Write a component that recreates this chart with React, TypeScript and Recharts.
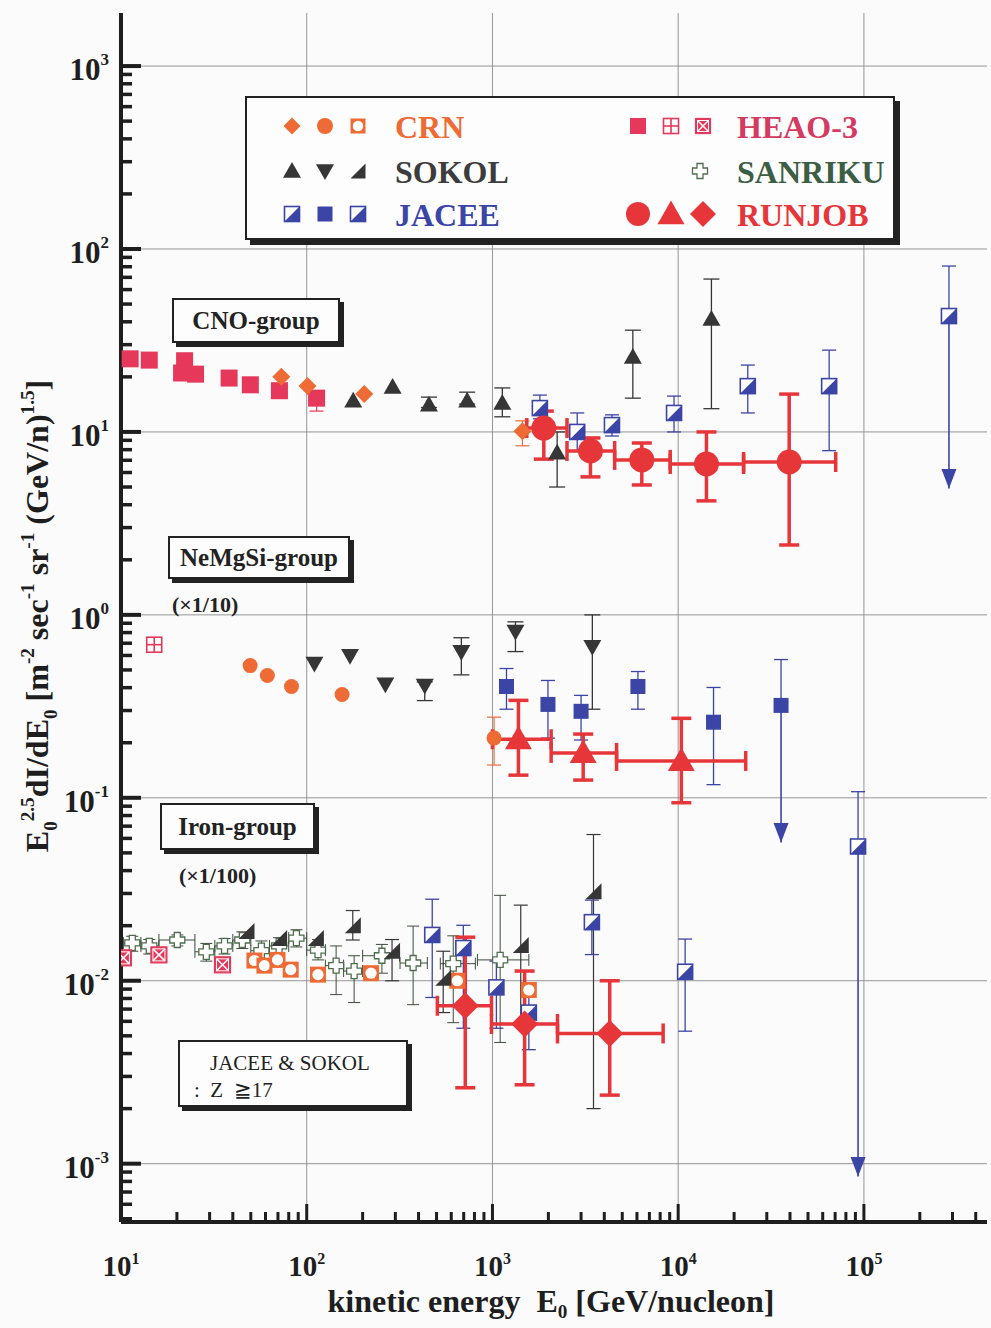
import React from 'react';
import { ScatterChart, Scatter, XAxis, YAxis, ErrorBar, ReferenceLine, Legend } from 'recharts';

// rows: [E, value, yLow, yHigh, xLow, xHigh] — values as plotted (NeMgSi x1/10, Iron x1/100)
type Row = (number | null)[];

// ---------- CNO-group ----------
const cnoHeao: Row[] = [
  [11.2, 25.1], [14.2, 24.7], [22.0, 24.5], [21.2, 21.0], [25.2, 20.7],
  [38.2, 19.7], [49.7, 18.1], [71.3, 16.8], [113, 15.3, 13.0, 15.8],
];
const cnoCrn: Row[] = [[73, 20.0], [101, 17.8], [204, 16.1], [1450, 10.1, 8.4, 11.5]];
const cnoSokol: Row[] = [
  [178, 14.8], [290, 17.6], [455, 14.1, 13.6, 15.5], [731, 14.8, 14.2, 16.5],
  [1130, 14.4, 12.1, 17.4], [2230, 7.7, 5.0, 10.0], [5700, 25.7, 15.3, 36], [15100, 41.4, 13.4, 68.5],
];
const cnoJacee: Row[] = [
  [1800, 13.5, 11.8, 15.9], [2860, 10.0, 7.9, 12.7], [4400, 10.9, 9.5, 12.4], [9500, 12.7, 10.0, 15.7],
  [23700, 17.8, 12.7, 23.2], [65000, 17.8, 7.9, 28], [287000, 43, 43, 80.7],
];
const cnoRunjob: Row[] = [
  [1890, 10.5, 7.1, 13.0, 1530, 2520], [3370, 7.87, 5.68, 9.27, 2520, 4550],
  [6370, 7.03, 5.13, 8.7, 4550, 9060], [14200, 6.68, 4.2, 10, 9060, 22500],
  [39600, 6.85, 2.41, 16.1, 22500, 70500],
];

// ---------- NeMgSi-group (x1/10) ----------
const neHeao: Row[] = [[15.1, 0.687]];
const neCrn: Row[] = [[49.6, 0.528], [61.4, 0.466], [82.8, 0.406], [155, 0.367], [1020, 0.212, 0.151, 0.276]];
const neSokol: Row[] = [
  [110, 0.542], [171, 0.598], [265, 0.417], [432, 0.411, 0.34, 0.43], [680, 0.629, 0.47, 0.75],
  [1330, 0.81, 0.63, 0.916], [3450, 0.67, 0.305, 1.0],
];
const neJacee: Row[] = [
  [1190, 0.406, 0.305, 0.509], [1990, 0.324, 0.212, 0.438], [3000, 0.297, 0.207, 0.363],
  [6070, 0.406, 0.305, 0.49], [15500, 0.259, 0.118, 0.401], [35800, 0.32, 0.32, 0.57],
];
const neRunjob: Row[] = [
  [1380, 0.209, 0.133, 0.341, 1000, 2070], [3080, 0.176, 0.125, 0.223, 2070, 4660],
  [10400, 0.159, 0.094, 0.272, 4660, 23100],
];

// ---------- Iron-group (x1/100) ----------
const feHeao: Row[] = [[10.3, 0.01334], [16.0, 0.01385], [35.2, 0.01222]];
const feSanriku: Row[] = [
  [11.5, 0.0161, 0.0145, 0.0175, 10.3, 12.8], [14.2, 0.0155, 0.014, 0.0168, 12.8, 16],
  [20.1, 0.0167, 0.0155, 0.0178, 16, 25], [28.8, 0.0144, 0.0128, 0.016, 25, 32],
  [36.1, 0.0155, 0.014, 0.017, 32, 40], [45, 0.0167, 0.015, 0.0185, 40, 50],
  [57, 0.0146, 0.013, 0.0165, 50, 63], [71, 0.0155, 0.014, 0.0172, 63, 80],
  [88, 0.0171, 0.0153, 0.019, 80, 100], [115, 0.0147, 0.013, 0.0168, 100, 126],
  [144, 0.0121, 0.0084, 0.0155, 126, 158], [180, 0.0113, 0.0076, 0.0137, 158, 200],
  [254, 0.0137, 0.011, 0.0158, 200, 316], [374, 0.0125, 0.0074, 0.0199, 318, 446],
  [615, 0.0124, 0.0059, 0.0176, 524, 809], [1100, 0.013, 0.0046, 0.0293, 830, 1570],
];
const feSokol: Row[] = [
  [47.4, 0.0187], [71, 0.0171], [112, 0.0171], [177, 0.0201, 0.0167, 0.0242],
  [288, 0.0146, 0.0100, 0.0168], [543, 0.0104, 0.0067, 0.0145], [1420, 0.0157, 0.0058, 0.0259],
  [3500, 0.0308, 0.0020, 0.063],
];
const feJacee: Row[] = [
  [474, 0.0178, 0.0081, 0.0279], [697, 0.0151, 0.0055, 0.0201], [1050, 0.0092, 0.0055, 0.0128],
  [1570, 0.0067, 0.0042, 0.0095], [3430, 0.0209, 0.0139, 0.0276], [10900, 0.0112, 0.0053, 0.0169],
  [93000, 0.0542, 0.0542, 0.108],
];
const feCrn: Row[] = [
  [52.3, 0.0129], [59.2, 0.0121], [69.6, 0.013], [82, 0.0115], [115, 0.0108], [222, 0.011],
  [647, 0.010], [1570, 0.0089],
];
const feRunjob: Row[] = [
  [714, 0.0073, 0.0026, 0.0173, 505, 988], [1490, 0.0058, 0.0027, 0.0113, 988, 2240],
  [4280, 0.00515, 0.00237, 0.0100, 2240, 8300],
];

// JACEE upper limits: [E, from value, arrow tip]
const jaceeLimits: number[][] = [[287000, 43, 4.9], [35800, 0.32, 0.057], [93000, 0.0542, 0.00085]];

// ---------- axes ----------
const X_DOMAIN: [number, number] = [10, 4.6e5];
const Y_DOMAIN: [number, number] = [4.8e-4, 1.95e3];
const xDecades = [10, 100, 1000, 10000, 100000];
const yDecades = [1e-4, 1e-3, 1e-2, 1e-1, 1, 10, 100, 1000];
const xExp: Record<string, string> = { 10: '1', 100: '2', 1000: '3', 10000: '4', 100000: '5' };
const yExp = ['-3', '-2', '-1', '0', '1', '2', '3'];

const inRange = (v: number, d: [number, number]) => v >= d[0] * 0.999 && v <= d[1] * 1.001;
const xTicks = xDecades.flatMap((d) => [1, 2, 3, 4, 5, 6, 7, 8, 9].map((k) => d * k)).filter((v) => inRange(v, X_DOMAIN));
const yTicks = yDecades.flatMap((d) => [1, 2, 3, 4, 5, 6, 7, 8, 9].map((k) => d * k)).filter((v) => inRange(v, Y_DOMAIN));
const isMajor = (v: number) => Math.abs(Math.log10(v) - Math.round(Math.log10(v))) < 1e-6;

const SERIF = '"Liberation Serif", "Times New Roman", serif';
const INK = '#1e1e1e';
const C = {
  heao: '#e5385a',
  heaoText: '#d43a62',
  crn: '#ef6b35',
  sokol: '#363636',
  jacee: '#3b45a6',
  sanriku: '#4e6e4e',
  sanrikuText: '#3b5e44',
  runjob: '#e6363a',
};

const toPts = (rows: Row[]) =>
  rows.map(([x, y, lo, hi, xl, xh]) => ({
    x,
    y,
    ey: lo != null && hi != null ? [(y as number) - lo, hi - (y as number)] : undefined,
    ex: xl != null && xh != null ? [(x as number) - xl, xh - (x as number)] : undefined,
  }));

type Kind =
  | 'square' | 'circle' | 'diamond' | 'triUp' | 'triDown' | 'halfTri' | 'halfSq'
  | 'openSq' | 'plusSq' | 'xSq' | 'cross' | 'arrow';

function Marker({ cx, cy, kind, color, s }: { cx: number; cy: number; kind: Kind; color: string; s: number }) {
  if (cx == null || cy == null || isNaN(cx) || isNaN(cy)) return null;
  const h = s / 2;
  const sq = { x: cx - h, y: cy - h, width: s, height: s };
  switch (kind) {
    case 'square':
      return <rect {...sq} fill={color} />;
    case 'circle':
      return <circle cx={cx} cy={cy} r={h} fill={color} />;
    case 'diamond':
      return <polygon points={`${cx},${cy - h} ${cx + h},${cy} ${cx},${cy + h} ${cx - h},${cy}`} fill={color} />;
    case 'triUp':
      return <polygon points={`${cx},${cy - h} ${cx + h},${cy + h * 0.75} ${cx - h},${cy + h * 0.75}`} fill={color} />;
    case 'triDown':
      return <polygon points={`${cx},${cy + h} ${cx + h},${cy - h * 0.75} ${cx - h},${cy - h * 0.75}`} fill={color} />;
    case 'halfTri':
      return <polygon points={`${cx - h},${cy + h} ${cx + h},${cy + h} ${cx + h},${cy - h}`} fill={color} />;
    case 'halfSq':
      return (
        <g>
          <rect {...sq} fill="#fff" stroke={color} strokeWidth={1.6} />
          <polygon points={`${cx - h},${cy + h} ${cx + h},${cy + h} ${cx + h},${cy - h}`} fill={color} />
        </g>
      );
    case 'openSq':
      return (
        <g>
          <rect {...sq} fill={color} />
          <circle cx={cx} cy={cy} r={h * 0.7} fill="#fff" />
        </g>
      );
    case 'plusSq':
      return (
        <g stroke={color} strokeWidth={1.6}>
          <rect {...sq} fill="#fff" />
          <line x1={cx - h} x2={cx + h} y1={cy} y2={cy} />
          <line x1={cx} x2={cx} y1={cy - h} y2={cy + h} />
        </g>
      );
    case 'xSq':
      return (
        <g>
          <rect {...sq} fill={color} stroke={color} strokeWidth={1.2} />
          <line x1={cx - h + 2} x2={cx + h - 2} y1={cy - h + 2} y2={cy + h - 2} stroke="#fff" strokeWidth={1.5} />
          <line x1={cx - h + 2} x2={cx + h - 2} y1={cy + h - 2} y2={cy - h + 2} stroke="#fff" strokeWidth={1.5} />
          <rect x={cx - h + 2} y={cy - h + 2} width={s - 4} height={s - 4} fill="none" stroke="#fff" strokeWidth={1} />
        </g>
      );
    case 'cross': {
      const a = s * 0.2;
      const p = [
        [cx - a, cy - h], [cx + a, cy - h], [cx + a, cy - a], [cx + h, cy - a], [cx + h, cy + a], [cx + a, cy + a],
        [cx + a, cy + h], [cx - a, cy + h], [cx - a, cy + a], [cx - h, cy + a], [cx - h, cy - a], [cx - a, cy - a],
      ];
      return <polygon points={p.map((q) => q.join(',')).join(' ')} fill="#fff" stroke={color} strokeWidth={1.3} />;
    }
    case 'arrow':
      return <polygon points={`${cx - h},${cy - s * 1.3} ${cx + h},${cy - s * 1.3} ${cx},${cy}`} fill={color} />;
    default:
      return null;
  }
}

type Series = {
  name: string;
  rows: Row[];
  kind: Kind;
  color: string;
  s: number;
  err?: string;
  ew?: number;
  cap?: number;
};

const series: Series[] = [
  { name: 'fe-sanriku', rows: feSanriku, kind: 'cross', color: C.sanriku, s: 15, err: '#3e4a3e', ew: 1, cap: 6 },
  { name: 'fe-heao', rows: feHeao, kind: 'xSq', color: C.heao, s: 16 },
  { name: 'fe-crn', rows: feCrn, kind: 'openSq', color: C.crn, s: 16 },
  { name: 'fe-sokol', rows: feSokol, kind: 'halfTri', color: C.sokol, s: 16, err: C.sokol, ew: 1.2, cap: 7 },
  { name: 'fe-jacee', rows: feJacee, kind: 'halfSq', color: C.jacee, s: 15, err: C.jacee, ew: 1.3, cap: 7 },
  { name: 'ne-heao', rows: neHeao, kind: 'plusSq', color: C.heao, s: 15 },
  { name: 'ne-crn', rows: neCrn, kind: 'circle', color: C.crn, s: 15, err: C.crn, ew: 1.2, cap: 7 },
  { name: 'ne-sokol', rows: neSokol, kind: 'triDown', color: C.sokol, s: 18, err: C.sokol, ew: 1.3, cap: 8 },
  { name: 'ne-jacee', rows: neJacee, kind: 'square', color: C.jacee, s: 15, err: C.jacee, ew: 1.3, cap: 7 },
  { name: 'cno-heao', rows: cnoHeao, kind: 'square', color: C.heao, s: 17, err: C.heao, ew: 1.2, cap: 7 },
  { name: 'cno-crn', rows: cnoCrn, kind: 'diamond', color: C.crn, s: 18, err: C.crn, ew: 1.2, cap: 7 },
  { name: 'cno-sokol', rows: cnoSokol, kind: 'triUp', color: C.sokol, s: 18, err: C.sokol, ew: 1.3, cap: 8 },
  { name: 'cno-jacee', rows: cnoJacee, kind: 'halfSq', color: C.jacee, s: 15, err: C.jacee, ew: 1.3, cap: 7 },
  { name: 'jacee-arrows', rows: jaceeLimits.map(([e, , tip]) => [e, tip]), kind: 'arrow', color: C.jacee, s: 15 },
  { name: 'cno-runjob', rows: cnoRunjob, kind: 'circle', color: C.runjob, s: 25, err: C.runjob, ew: 3.5, cap: 10 },
  { name: 'ne-runjob', rows: neRunjob, kind: 'triUp', color: C.runjob, s: 27, err: C.runjob, ew: 3.5, cap: 10 },
  { name: 'fe-runjob', rows: feRunjob, kind: 'diamond', color: C.runjob, s: 27, err: C.runjob, ew: 3.5, cap: 10 },
];

// ---------- text helpers ----------
type Seg = [string, ('sup' | 'sub')?];
function rich(segs: Seg[], size: number, subShift = 0.28) {
  let cur = 0;
  return segs.map(([t, k], i) => {
    const off = k === 'sup' ? -size * 0.45 : k === 'sub' ? size * subShift : 0;
    const dy = off - cur;
    cur = off;
    return (
      <tspan key={i} dy={dy} fontSize={k ? size * 0.6 : size}>
        {t}
      </tspan>
    );
  });
}

const yTitle: Seg[] = [
  ['E'], ['0', 'sub'], ['2.5', 'sup'], ['dI/dE'], ['0', 'sub'], [' [m'], ['-2', 'sup'], [' sec'], ['-1', 'sup'],
  [' sr'], ['-1', 'sup'], [' (GeV/n)'], ['1.5', 'sup'], [']'],
];
const xTitle: Seg[] = [['kinetic energy  E'], ['0', 'sub'], [' [GeV/nucleon]']];

function YTitle() {
  const cx = 48;
  const cy = 616;
  return (
    <text x={cx} y={cy} transform={`rotate(-90 ${cx} ${cy})`} textAnchor="middle" fontFamily={SERIF}
      fontWeight="bold" fill={INK} style={{ whiteSpace: 'pre' }}>
      {rich(yTitle, 32)}
    </text>
  );
}

function XTitle() {
  return (
    <text x={551} y={1312} textAnchor="middle" fontFamily={SERIF} fontWeight="bold" fill={INK} style={{ whiteSpace: 'pre' }}>
      {rich(xTitle, 32, 0.18)}
    </text>
  );
}

function BottomTick(p: any) {
  const v = p.payload.value;
  const major = isMajor(v);
  return (
    <g>
      <line x1={p.x} x2={p.x} y1={p.y} y2={p.y - (major ? 18 : 10)} stroke={INK} strokeWidth={3} />
      {major && (
        <text x={p.x} y={p.y + 54} textAnchor="middle" fontFamily={SERIF} fontWeight="bold" fontSize={29} fill={INK}>
          10<tspan dy={-12} fontSize={16}>{xExp[String(v)]}</tspan>
        </text>
      )}
    </g>
  );
}

function TopTick(p: any) {
  const major = isMajor(p.payload.value);
  return <line x1={p.x} x2={p.x} y1={p.y} y2={p.y + (major ? 16 : 9)} stroke={INK} strokeWidth={3} />;
}

function LeftTick(p: any) {
  const v = p.payload.value;
  const major = isMajor(v);
  const e = Math.round(Math.log10(v));
  return (
    <g>
      <line x1={p.x} x2={p.x + (major ? 20 : 11)} y1={p.y} y2={p.y} stroke={INK} strokeWidth={major ? 4 : 3.5} />
      {major && (
        <text x={p.x - 12} y={p.y + 14} textAnchor="end" fontFamily={SERIF} fontWeight="bold" fontSize={31} fill={INK}>
          10<tspan dy={-15} fontSize={17}>{yExp[e + 3]}</tspan>
        </text>
      )}
    </g>
  );
}

function RightTick(p: any) {
  const major = isMajor(p.payload.value);
  return <line x1={p.x} x2={p.x - (major ? 16 : 9)} y1={p.y} y2={p.y} stroke={INK} strokeWidth={major ? 4 : 3.5} />;
}

// ---------- legend & annotation boxes ----------
const legendRows: { kinds: [Kind, string, number][]; label: string; color: string; side: 'l' | 'r' }[] = [
  { kinds: [['diamond', C.crn, 17], ['circle', C.crn, 16], ['openSq', C.crn, 15]], label: 'CRN', color: C.crn, side: 'l' },
  { kinds: [['triUp', C.sokol, 18], ['triDown', C.sokol, 18], ['halfTri', C.sokol, 15]], label: 'SOKOL', color: '#3c3c3c', side: 'l' },
  { kinds: [['halfSq', C.jacee, 15], ['square', C.jacee, 15], ['halfSq', C.jacee, 15]], label: 'JACEE', color: C.jacee, side: 'l' },
  { kinds: [['square', C.heao, 16], ['plusSq', C.heao, 15], ['xSq', C.heao, 15]], label: 'HEAO-3', color: C.heaoText, side: 'r' },
  { kinds: [['cross', C.sanriku, 15]], label: 'SANRIKU', color: C.sanrikuText, side: 'r' },
  { kinds: [['circle', C.runjob, 24], ['triUp', C.runjob, 27], ['diamond', C.runjob, 26]], label: 'RUNJOB', color: C.runjob, side: 'r' },
];

function LegendBox() {
  const rowY = [28, 73, 116];
  return (
    <div style={{ width: 646, height: 140, border: '2.5px solid #222', boxShadow: '5px 5px 0 #222', background: '#fdfdfd' }}>
      <svg width={646} height={140}>
        {legendRows.map((r, i) => {
          const y = rowY[i % 3];
          const left = r.side === 'l';
          const markers = left ? [45, 78, 111] : r.kinds.length === 1 ? [453] : [391, 424, 456];
          return (
            <g key={r.label}>
              {r.kinds.map(([k, c, s], j) => (
                <Marker key={j} cx={markers[j]} cy={y} kind={k} color={c} s={s} />
              ))}
              <text x={left ? 148 : 490} y={y + 12} fontFamily={SERIF} fontWeight="bold" fontSize={32} fill={r.color}>
                {r.label}
              </text>
            </g>
          );
        })}
      </svg>
    </div>
  );
}

const boxStyle = (left: number, top: number, w: number, h: number): React.CSSProperties => ({
  position: 'absolute', left, top, width: w, height: h, border: '2px solid #222', boxShadow: '4px 4px 0 #222',
  background: '#fdfdfd', display: 'flex', alignItems: 'center', justifyContent: 'center', boxSizing: 'border-box',
  fontFamily: SERIF, fontWeight: 'bold', fontSize: 25, color: '#222',
});
const noteStyle = (left: number, top: number): React.CSSProperties => ({
  position: 'absolute', left, top, fontFamily: SERIF, fontWeight: 'bold', fontSize: 22, color: '#222',
});

export default function App() {
  return (
    <div style={{ position: 'absolute', left: 0, top: 0, width: 991, height: 1328, background: '#fbfbfb', overflow: 'hidden' }}>
      <ScatterChart width={991} height={1328} margin={{ top: 13, right: 4, bottom: 0, left: 0 }}>
        <XAxis xAxisId="b" dataKey="x" type="number" scale="log" domain={X_DOMAIN} allowDataOverflow ticks={xTicks}
          interval={0} tickSize={0} tickMargin={0} tickLine={false} tick={(p: any) => <BottomTick {...p} />}
          axisLine={{ stroke: INK, strokeWidth: 4 }} height={106} label={<XTitle />} />
        <XAxis xAxisId="t" orientation="top" dataKey="x" type="number" scale="log" domain={X_DOMAIN} allowDataOverflow
          ticks={xTicks} interval={0} tickSize={0} tickMargin={0} tickLine={false} tick={(p: any) => <TopTick {...p} />}
          axisLine={{ stroke: INK, strokeWidth: 4 }} height={0} />
        <YAxis yAxisId="l" dataKey="y" type="number" scale="log" domain={Y_DOMAIN} allowDataOverflow ticks={yTicks}
          interval={0} tickSize={0} tickMargin={0} tickLine={false} tick={(p: any) => <LeftTick {...p} />}
          axisLine={{ stroke: INK, strokeWidth: 4 }} width={121} label={<YTitle />} />
        <YAxis yAxisId="r" orientation="right" dataKey="y" type="number" scale="log" domain={Y_DOMAIN} allowDataOverflow
          ticks={yTicks} interval={0} tickSize={0} tickMargin={0} tickLine={false} tick={(p: any) => <RightTick {...p} />}
          axisLine={{ stroke: INK, strokeWidth: 4 }} width={0} />

        {xDecades.slice(1).map((v) => (
          <ReferenceLine key={'gx' + v} x={v} xAxisId="b" yAxisId="l" stroke="#8a8a8a" strokeWidth={0.9} />
        ))}
        {yDecades.filter((v) => inRange(v, Y_DOMAIN)).map((v) => (
          <ReferenceLine key={'gy' + v} y={v} xAxisId="b" yAxisId="l" stroke="#8a8a8a" strokeWidth={0.9} />
        ))}
        {jaceeLimits.map(([e, from, tip]) => (
          <ReferenceLine key={'lim' + e} xAxisId="b" yAxisId="l" segment={[{ x: e, y: from }, { x: e, y: tip }]}
            stroke={C.jacee} strokeWidth={1.6} />
        ))}

        {series.map((sr) => (
          <Scatter key={sr.name} name={sr.name} data={toPts(sr.rows)} xAxisId="b" yAxisId="l" isAnimationActive={false}
            shape={(p: any) => <Marker cx={p.cx} cy={p.cy} kind={sr.kind} color={sr.color} s={sr.s} />}>
            {sr.err && (
              <ErrorBar dataKey="ey" direction="y" stroke={sr.err} strokeWidth={sr.ew} width={sr.cap} isAnimationActive={false} />
            )}
            {sr.err && (
              <ErrorBar dataKey="ex" direction="x" stroke={sr.err} strokeWidth={sr.ew} width={sr.cap} isAnimationActive={false} />
            )}
          </Scatter>
        ))}

        <Legend layout="horizontal" verticalAlign="middle" align="center" content={() => <LegendBox />}
          wrapperStyle={{ left: 245, top: 96, width: 650, height: 144 }} />
      </ScatterChart>

      <div style={boxStyle(172, 298, 168, 45)}>CNO-group</div>
      <div style={boxStyle(168, 536, 182, 43)}>NeMgSi-group</div>
      <div style={noteStyle(172, 592)}>(×1/10)</div>
      <div style={boxStyle(160, 803, 155, 47)}>Iron-group</div>
      <div style={noteStyle(179, 863)}>(×1/100)</div>
      <div style={{ ...boxStyle(178, 1040, 230, 67), display: 'block', fontWeight: 'normal', fontSize: 21, padding: '9px 0 0 14px' }}>
        <div style={{ paddingLeft: 16 }}>JACEE &amp; SOKOL</div>
        <div style={{ marginTop: 2 }}>:&nbsp; Z&nbsp; ≧17</div>
      </div>
    </div>
  );
}
